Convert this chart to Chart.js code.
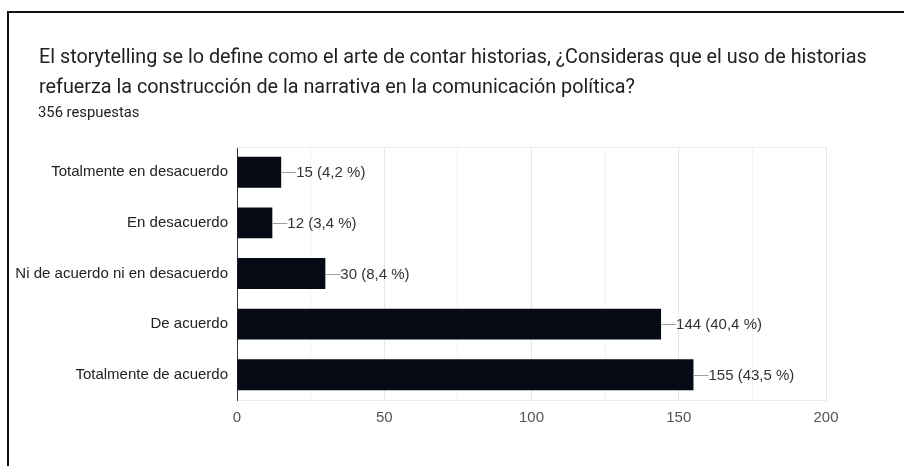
<!DOCTYPE html>
<html>
<head>
<meta charset="utf-8">
<script src="https://cdn.jsdelivr.net/npm/chart.js@4/dist/chart.umd.min.js"></script>
<style>
  html, body { margin: 0; padding: 0; background: #fff; }
  body { width: 904px; height: 466px; position: relative; overflow: hidden; }
  #frame {
    position: absolute; left: 7px; top: 11px; width: 1000px; height: 600px;
    border-top: 2px solid #111; border-left: 2px solid #111;
  }
  #title {
    position: absolute; left: 39px; top: 42px; white-space: nowrap;
    font-family: Roboto, sans-serif; font-size: 19.8px; line-height: 30px; color: #202124;
  }
  #sub {
    position: absolute; left: 38px; top: 102px;
    font-family: Roboto, sans-serif; font-size: 14.8px; line-height: 20px; color: #202124;
  }
  #myChart { position: absolute; left: 0; top: 0; }
</style>
</head>
<body>
<div id="frame"></div>
<canvas id="myChart" width="904" height="466"></canvas>
<div id="title">El storytelling se lo define como el arte de contar historias, ¿Consideras que el uso de historias<br>refuerza la construcción de la narrativa en la comunicación política?</div>
<div id="sub">356 respuestas</div>
<script>
'use strict';

// Data
const categories = [
  'Totalmente en desacuerdo',
  'En desacuerdo',
  'Ni de acuerdo ni en desacuerdo',
  'De acuerdo',
  'Totalmente de acuerdo'
];
const answers = [15, 12, 30, 144, 155];
const percents = ['4,2', '3,4', '8,4', '40,4', '43,5'];
const xTicks = [0, 50, 100, 150, 200];

const labelFont = '"Liberation Sans", Arial, sans-serif';
const ctx = document.querySelector('#myChart').getContext('2d');

// Top border of plot area
const frameLines = {
  id: 'frameLines',
  beforeDatasetsDraw(chart) {
    const { ctx, chartArea } = chart;
    ctx.save();
    ctx.strokeStyle = '#ebebeb';
    ctx.lineWidth = 1;
    ctx.beginPath();
    ctx.moveTo(chartArea.left, chartArea.top + 0.5);
    ctx.lineTo(chartArea.right, chartArea.top + 0.5);
    ctx.stroke();
    ctx.restore();
  }
};

// Value labels with leader line
const valueLabels = {
  id: 'valueLabels',
  afterDatasetsDraw(chart) {
    const { ctx } = chart;
    const bars = chart.getDatasetMeta(0).data;
    ctx.save();
    ctx.font = `15px ${labelFont}`;
    ctx.textBaseline = 'middle';
    bars.forEach((bar, i) => {
      ctx.strokeStyle = '#9e9e9e';
      ctx.lineWidth = 1;
      ctx.beginPath();
      ctx.moveTo(bar.x, Math.round(bar.y) + 0.5);
      ctx.lineTo(bar.x + 15, Math.round(bar.y) + 0.5);
      ctx.stroke();
      ctx.fillStyle = '#333';
      ctx.fillText(`${answers[i]} (${percents[i]} %)`, bar.x + 15, bar.y + 1);
    });
    ctx.restore();
  }
};

let myChart = new Chart(ctx, {
  type: 'bar',
  data: {
    labels: categories,
    datasets: [{
      data: answers,
      backgroundColor: '#050a14',
      barPercentage: 0.61,
      categoryPercentage: 1
    }]
  },
  options: {
    indexAxis: 'y',
    responsive: false,
    animation: false,
    layout: {
      padding: { left: 0, top: 147, right: 78, bottom: 0 }
    },
    scales: {
      x: {
        min: 0,
        max: 200,
        afterFit: scale => { scale.height = 66; },
        grid: {
          drawTicks: false,
          color: c => (c.tick && c.tick.value % 50 === 0) ? '#e6e6e6' : '#f3f3f3'
        },
        border: { display: true, color: '#ebebeb' },
        ticks: {
          stepSize: 25,
          padding: 9,
          color: '#555',
          font: { family: labelFont, size: 15 },
          callback: value => xTicks.includes(value) ? value : ''
        }
      },
      y: {
        afterFit: scale => { scale.width = 237; },
        grid: { display: false, drawTicks: false },
        border: { display: true, color: '#333', width: 1 },
        ticks: {
          padding: 9,
          color: '#222',
          font: { family: labelFont, size: 15 }
        }
      }
    },
    plugins: {
      legend: { display: false },
      tooltip: { enabled: false }
    }
  },
  plugins: [frameLines, valueLabels]
});
</script>
</body>
</html>
